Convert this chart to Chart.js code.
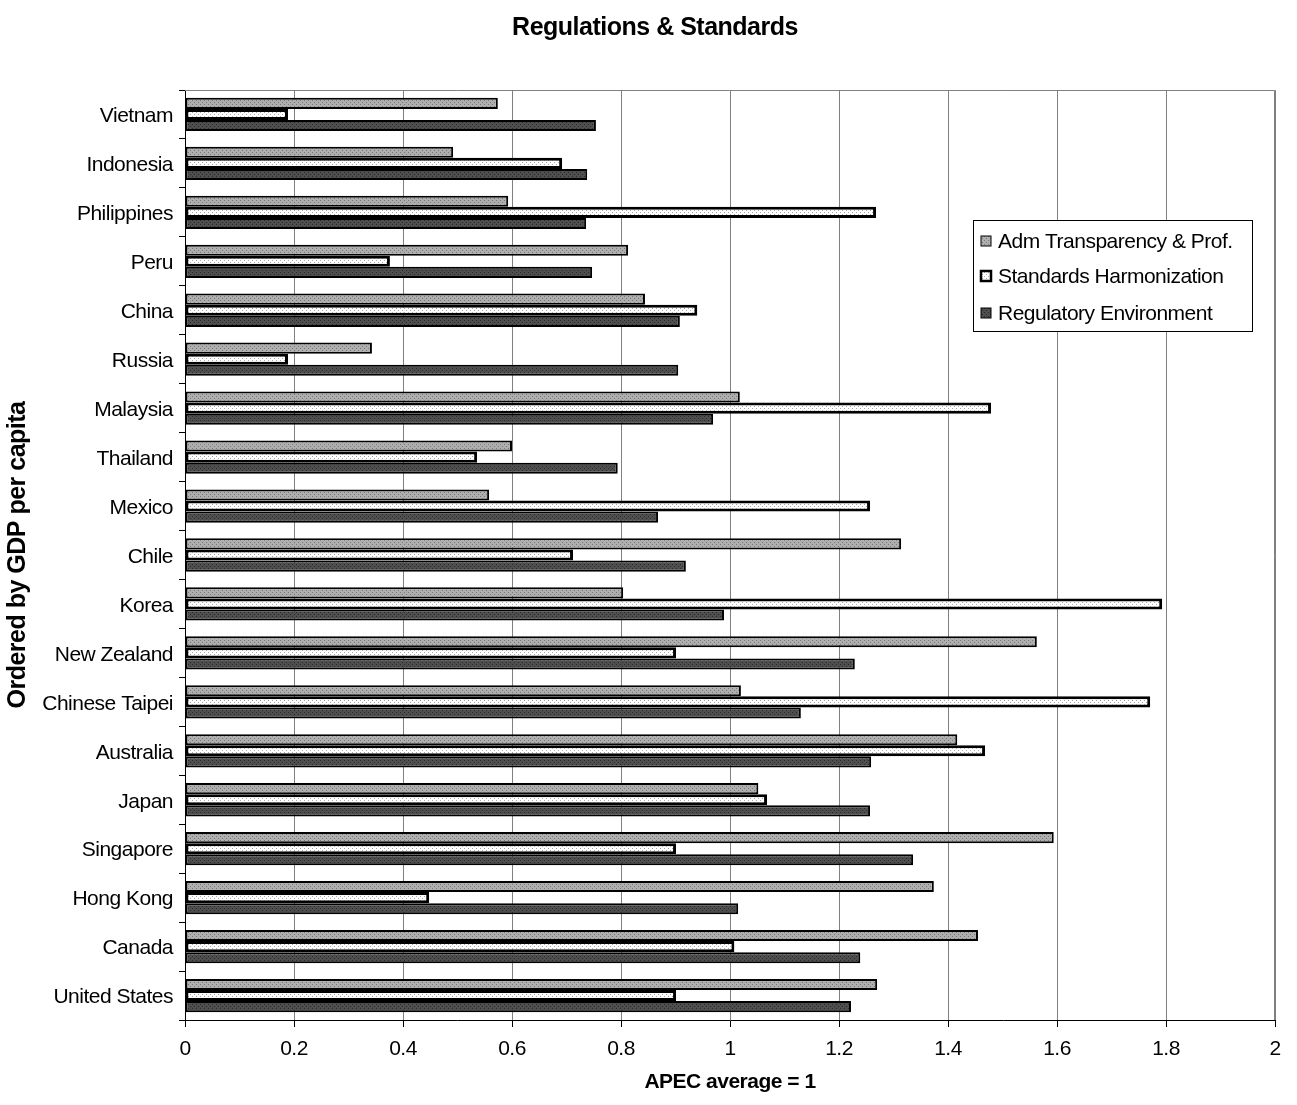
<!DOCTYPE html>
<html>
<head>
<meta charset="utf-8">
<script src="https://cdn.jsdelivr.net/npm/chart.js@4.4.1/dist/chart.umd.min.js"></script>
<style>
  body { margin: 0; background: #fff; }
  #wrap { width: 1297px; height: 1105px; }
</style>
</head>
<body>
<div id="wrap"><canvas id="myChart"></canvas></div>
<script>
var countries = ["Vietnam", "Indonesia", "Philippines", "Peru", "China", "Russia", "Malaysia", "Thailand",
    "Mexico", "Chile", "Korea", "New Zealand", "Chinese Taipei", "Australia", "Japan", "Singapore",
    "Hong Kong", "Canada", "United States"];
var admTransparency = [0.574, 0.492, 0.593, 0.813, 0.844, 0.343, 1.018, 0.600, 0.558, 1.314,
    0.804, 1.563, 1.020, 1.417, 1.052, 1.594, 1.374, 1.455, 1.270];
var stdHarmonization = [0.189, 0.692, 1.268, 0.376, 0.940, 0.189, 1.479, 0.536, 1.257, 0.712,
    1.793, 0.901, 1.771, 1.468, 1.068, 0.901, 0.448, 1.008, 0.901];
var regEnvironment = [0.754, 0.738, 0.736, 0.747, 0.908, 0.905, 0.969, 0.794, 0.868, 0.919,
    0.989, 1.229, 1.130, 1.259, 1.257, 1.336, 1.015, 1.239, 1.222];
var xTicks = [0, 0.2, 0.4, 0.6, 0.8, 1, 1.2, 1.4, 1.6, 1.8, 2];

var FONT = "'Liberation Sans', Arial, sans-serif";

var ctx = document.getElementById('myChart').getContext('2d');

// small dotted fill like the old excel patterns
function makePattern(bg, dot) {
    var c = document.createElement('canvas');
    c.width = 4; c.height = 4;
    var g = c.getContext('2d');
    g.fillStyle = bg;
    g.fillRect(0, 0, 4, 4);
    g.fillStyle = dot;
    g.fillRect(0, 0, 1, 1);
    g.fillRect(2, 2, 1, 1);
    return ctx.createPattern(c, 'repeat');
}

var admFill = makePattern("#aeaeae", "#777777");
var stdFill = makePattern("#ffffff", "#a8a8a8");
var regFill = makePattern("#4e4e4e", "#2a2a2a");

var data = {
    labels: countries,
    datasets: [{
        label: "Adm Transparency & Prof.",
        data: admTransparency,
        backgroundColor: admFill,
        borderColor: "#000",
        borderWidth: 2,
        borderSkipped: false
    }, {
        label: "Standards Harmonization",
        data: stdHarmonization,
        backgroundColor: stdFill,
        borderColor: "#000",
        borderWidth: 3,
        borderSkipped: false
    }, {
        label: "Regulatory Environment",
        data: regEnvironment,
        backgroundColor: regFill,
        borderColor: "#000",
        borderWidth: 2,
        borderSkipped: false
    }]
};

// title, gray frame and the boxed legend inside the plot
var extras = {
    id: 'extras',
    beforeDraw: function (chart) {
        chart.ctx.letterSpacing = "-0.5px";
    },
    beforeDatasetsDraw: function (chart) {
        var a = chart.chartArea, c = chart.ctx;
        c.save();
        c.strokeStyle = "#808080";
        c.lineWidth = 1;
        c.beginPath();
        c.moveTo(a.left, a.top + 0.5);
        c.lineTo(a.right - 0.5, a.top + 0.5);
        c.lineTo(a.right - 0.5, a.bottom);
        c.stroke();
        c.restore();
    },
    afterDraw: function (chart) {
        var c = chart.ctx;
        c.save();
        c.fillStyle = "#000";
        c.font = "bold 25px " + FONT;
        c.textAlign = "center";
        c.textBaseline = "middle";
        c.fillText("Regulations & Standards", 655, 28);

        // legend
        c.fillStyle = "#fff";
        c.fillRect(973.5, 220.5, 279, 111);
        c.strokeStyle = "#000";
        c.lineWidth = 1;
        c.strokeRect(973.5, 220.5, 279, 111);
        var rows = [241, 276, 313];
        c.font = "21px " + FONT;
        c.textAlign = "left";
        chart.data.datasets.forEach(function (ds, i) {
            var y = rows[i];
            c.fillStyle = ds.backgroundColor;
            c.fillRect(981, y - 5, 10, 10);
            c.lineWidth = i === 1 ? 2.5 : 1;
            c.strokeStyle = "#000";
            c.strokeRect(981, y - 5, 10, 10);
            c.fillStyle = "#000";
            c.fillText(ds.label, 998, y + 1);
        });
        c.restore();
    }
};

var options = {
    indexAxis: 'y',
    responsive: true,
    maintainAspectRatio: false,
    animation: false,
    devicePixelRatio: 1,
    layout: { padding: { top: 90, right: 22, left: 0, bottom: 0 } },
    datasets: { bar: { categoryPercentage: 0.68, barPercentage: 1.0 } },
    plugins: {
        legend: { display: false },
        tooltip: { enabled: false },
        title: { display: false }
    },
    scales: {
        x: {
            min: 0,
            max: 2,
            afterBuildTicks: function (s) {
                s.ticks = xTicks.map(function (v) { return { value: v }; });
            },
            afterFit: function (s) { s.height = 85; },
            ticks: {
                color: "#000",
                font: { family: FONT, size: 21 },
                padding: 10,
                callback: function (v) { return String(v); }
            },
            grid: { color: "#808080", tickLength: 7, tickColor: "#000" },
            border: { color: "#000", width: 1 },
            title: {
                display: true,
                text: "APEC average = 1",
                color: "#000",
                font: { family: FONT, size: 21, weight: 'bold' },
                padding: { top: 4, bottom: 10 }
            }
        },
        y: {
            afterFit: function (s) { s.width = 185; },
            ticks: {
                color: "#000",
                font: { family: FONT, size: 21 },
                padding: 6,
                labelOffset: 2
            },
            grid: { drawOnChartArea: false, tickLength: 6, color: "#000", offset: true },
            border: { color: "#000", width: 1 },
            title: {
                display: true,
                text: "Ordered by GDP per capita",
                color: "#000",
                font: { family: FONT, size: 25, weight: 'bold' },
                padding: { top: 3, bottom: 0 }
            }
        }
    }
};

var chart = new Chart(ctx, {
    type: 'bar',
    data,
    options,
    plugins: [extras]
});
</script>
</body>
</html>
